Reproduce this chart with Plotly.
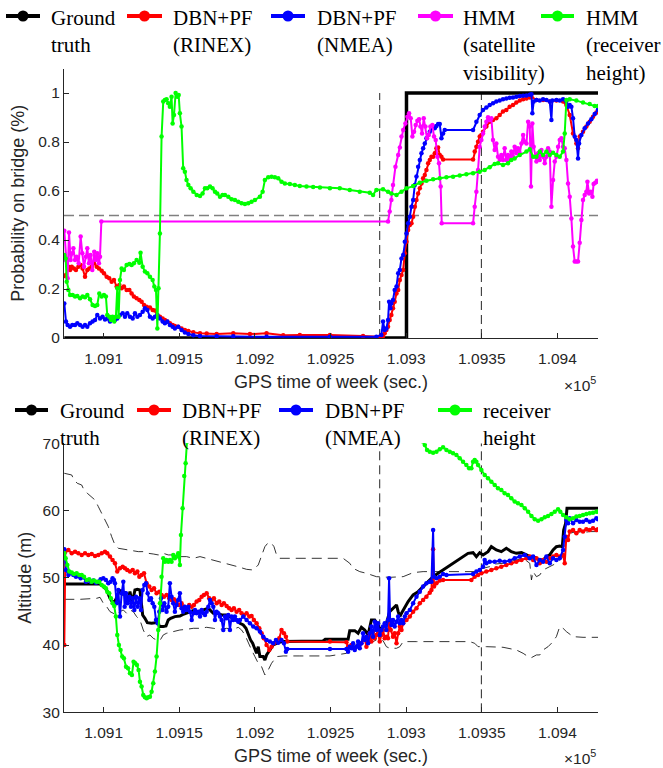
import plotly.graph_objects as go

# ---------------- data ----------------
tick_vals = [109100, 109150, 109200, 109250, 109300, 109350, 109400]
tick_text = ["1.091", "1.0915", "1.092", "1.0925", "1.093", "1.0935", "1.094"]
x_range = [109073.8, 109426.8]
event_times = [109282.5, 109349.7]

# ---- top: probability on bridge ----
gt_top_t = [109074.0, 109300.2, 109300.2, 109426.8]
gt_top_p = [0, 0, 1, 1]

rinex_top_t = [109074.0, 109075.1, 109076.7, 109077.8, 109078.9, 109080.4, 109081.7, 109083.3, 109084.8, 109086.1,
               109087.7, 109089.2, 109090.5, 109092.1, 109093.6, 109095.4, 109096.9, 109098.7, 109100.2, 109102.0,
               109103.7, 109105.3, 109106.8, 109108.6, 109110.4, 109111.9, 109113.4, 109115.2, 109117.0, 109118.5,
               109120.0, 109121.8, 109123.6, 109125.1, 109126.7, 109128.4, 109130.6, 109132.4, 109133.9, 109135.5,
               109137.2, 109139.0, 109140.5, 109142.1, 109143.8, 109145.6, 109147.1, 109149.3, 109151.5, 109153.7,
               109156.0, 109159.3, 109163.7, 109168.1, 109174.7, 109185.7, 109196.7, 109207.7, 109218.7, 109229.7,
               109249.6, 109271.5, 109282.5, 109284.7, 109285.8, 109286.9, 109288.0, 109289.1, 109290.2, 109291.3,
               109292.4, 109293.6, 109294.7, 109295.8, 109296.9, 109298.0, 109299.1, 109300.2, 109301.3, 109302.4,
               109303.5, 109304.6, 109305.7, 109306.8, 109307.9, 109309.0, 109310.1, 109311.2, 109312.3, 109313.4,
               109314.5, 109315.6, 109316.7, 109317.8, 109318.9, 109320.0, 109321.1, 109322.2, 109323.3, 109324.4,
               109344.2, 109345.3, 109346.4, 109347.5, 109348.6, 109349.7, 109350.8, 109353.0, 109355.2, 109357.4,
               109359.6, 109361.8, 109364.0, 109366.2, 109368.4, 109370.6, 109372.8, 109375.1, 109377.3, 109379.5,
               109381.7, 109382.8, 109386.1, 109390.5, 109394.9, 109399.3, 109403.7, 109405.9, 109408.1, 109410.3,
               109412.5, 109413.6, 109414.7, 109416.9, 109419.1, 109421.3, 109423.5, 109425.7, 109426.8]
rinex_top_p = [0.253, 0.257, 0.291, 0.278, 0.291, 0.284, 0.278, 0.291, 0.298, 0.284,
               0.250, 0.278, 0.284, 0.291, 0.305, 0.291, 0.284, 0.275, 0.264, 0.250,
               0.244, 0.230, 0.237, 0.210, 0.216, 0.203, 0.210, 0.196, 0.196, 0.182,
               0.169, 0.162, 0.155, 0.148, 0.135, 0.128, 0.125, 0.114, 0.112, 0.094,
               0.087, 0.080, 0.073, 0.067, 0.060, 0.053, 0.049, 0.046, 0.039, 0.033,
               0.029, 0.023, 0.019, 0.018, 0.016, 0.019, 0.016, 0.019, 0.011, 0.012,
               0.012, 0.008, 0.005, 0.008, 0.019, 0.033, 0.046, 0.073, 0.094, 0.121,
               0.148, 0.182, 0.196, 0.237, 0.257, 0.278, 0.346, 0.393, 0.441, 0.461,
               0.468, 0.495, 0.536, 0.563, 0.590, 0.611, 0.631, 0.652, 0.665, 0.686,
               0.713, 0.727, 0.740, 0.740, 0.754, 0.774, 0.778, 0.747, 0.740, 0.729,
               0.729, 0.761, 0.781, 0.801, 0.822, 0.829, 0.842, 0.863, 0.883, 0.890,
               0.897, 0.910, 0.924, 0.931, 0.944, 0.951, 0.961, 0.969, 0.974, 0.978,
               0.982, 0.985, 0.971, 0.971, 0.965, 0.969, 0.965, 0.951, 0.910, 0.835,
               0.794, 0.774, 0.822, 0.842, 0.863, 0.883, 0.903, 0.920, 0.928]

nmea_top_t = [109074.0, 109075.1, 109076.2, 109077.8, 109079.3, 109081.1, 109082.6, 109084.4, 109086.1, 109087.7,
              109089.2, 109091.0, 109092.7, 109094.3, 109095.8, 109097.6, 109099.3, 109100.9, 109102.4, 109104.2,
              109105.9, 109107.5, 109109.0, 109110.8, 109112.6, 109114.1, 109115.6, 109117.4, 109119.2, 109120.7,
              109122.3, 109124.0, 109125.8, 109127.3, 109128.9, 109130.6, 109132.4, 109133.9, 109135.5, 109137.2,
              109139.0, 109140.5, 109142.1, 109143.8, 109145.6, 109147.1, 109149.3, 109151.5, 109153.7, 109156.0,
              109159.3, 109163.7, 109174.7, 109185.7, 109207.7, 109249.6, 109280.3, 109283.6, 109284.7, 109285.8,
              109286.9, 109288.0, 109288.7, 109289.6, 109290.2, 109291.3, 109292.4, 109293.6, 109294.7, 109295.8,
              109296.9, 109298.0, 109299.1, 109300.2, 109301.3, 109302.4, 109303.5, 109304.6, 109305.7, 109306.8,
              109307.9, 109309.0, 109310.1, 109311.2, 109312.3, 109313.4, 109314.5, 109315.6, 109316.7, 109317.8,
              109318.9, 109320.0, 109321.1, 109322.2, 109323.3, 109324.4, 109325.5, 109344.2, 109346.4, 109348.6,
              109350.8, 109353.0, 109355.2, 109357.4, 109359.6, 109361.8, 109364.0, 109366.2, 109368.4, 109370.6,
              109372.8, 109375.1, 109377.3, 109379.5, 109381.7, 109382.8, 109383.4, 109384.3, 109386.1, 109388.3,
              109390.5, 109392.7, 109394.9, 109396.0, 109396.6, 109399.3, 109401.5, 109403.7, 109405.9, 109407.0,
              109408.1, 109409.2, 109410.3, 109411.4, 109412.5, 109413.6, 109414.3, 109415.8, 109418.0, 109420.2,
              109422.4, 109424.6, 109426.8]
nmea_top_p = [0.141, 0.067, 0.053, 0.046, 0.053, 0.053, 0.060, 0.053, 0.046, 0.053,
              0.046, 0.060, 0.067, 0.073, 0.094, 0.080, 0.087, 0.076, 0.080, 0.067,
              0.080, 0.073, 0.080, 0.094, 0.101, 0.087, 0.101, 0.087, 0.080, 0.101,
              0.087, 0.094, 0.107, 0.121, 0.114, 0.087, 0.080, 0.087, 0.094, 0.080,
              0.067, 0.060, 0.067, 0.053, 0.046, 0.039, 0.046, 0.033, 0.022, 0.016,
              0.011, 0.008, 0.007, 0.007, 0.005, 0.005, 0.005, 0.012, 0.067, 0.033,
              0.039, 0.073, 0.148, 0.121, 0.141, 0.155, 0.196, 0.210, 0.264, 0.278,
              0.325, 0.339, 0.393, 0.427, 0.468, 0.495, 0.536, 0.563, 0.624, 0.659,
              0.699, 0.727, 0.754, 0.774, 0.794, 0.815, 0.829, 0.842, 0.856, 0.863,
              0.856, 0.865, 0.873, 0.873, 0.815, 0.835, 0.849, 0.849, 0.883, 0.910,
              0.931, 0.941, 0.951, 0.958, 0.965, 0.969, 0.974, 0.978, 0.981, 0.982,
              0.985, 0.988, 0.989, 0.990, 0.993, 0.995, 0.917, 0.965, 0.971, 0.969,
              0.974, 0.971, 0.965, 0.890, 0.969, 0.971, 0.969, 0.974, 0.965, 0.944,
              0.951, 0.944, 0.897, 0.822, 0.808, 0.733, 0.794, 0.829, 0.856, 0.876,
              0.893, 0.914, 0.933]

vis_top_t = [109074.0, 109075.1, 109076.2, 109077.1, 109078.2, 109079.3, 109080.0, 109081.1, 109082.2, 109083.5,
             109084.8, 109085.9, 109087.0, 109088.3, 109089.2, 109090.3, 109091.4, 109092.5, 109093.8, 109094.9,
             109095.8, 109096.9, 109097.6, 109098.5, 109288.0, 109289.1, 109290.2, 109291.3, 109292.9, 109294.7,
             109295.8, 109296.9, 109298.0, 109299.5, 109300.8, 109301.9, 109303.0, 109304.1, 109305.2, 109306.3,
             109307.4, 109308.5, 109309.4, 109310.5, 109311.6, 109312.7, 109313.8, 109314.9, 109316.0, 109317.3,
             109318.4, 109319.5, 109320.6, 109321.7, 109322.8, 109323.5, 109344.2, 109345.3, 109346.4, 109347.5,
             109348.6, 109349.7, 109350.8, 109351.9, 109353.0, 109354.1, 109355.2, 109356.3, 109357.4, 109358.5,
             109359.6, 109360.7, 109361.8, 109362.9, 109364.0, 109365.1, 109366.2, 109367.3, 109368.4, 109369.5,
             109370.6, 109371.7, 109372.8, 109373.9, 109375.1, 109376.2, 109377.3, 109378.4, 109379.5, 109380.6,
             109381.7, 109382.5, 109383.4, 109384.3, 109385.2, 109386.1, 109387.2, 109388.3, 109389.4, 109390.5,
             109391.6, 109392.7, 109393.8, 109394.9, 109396.0, 109397.1, 109398.2, 109399.3, 109400.4, 109401.5,
             109402.6, 109403.7, 109404.8, 109405.9, 109407.0, 109408.1, 109409.2, 109410.3, 109411.4, 109412.5,
             109413.6, 109414.7, 109415.8, 109416.9, 109418.0, 109419.1, 109419.8, 109420.9, 109422.0, 109423.1,
             109423.9, 109425.0, 109426.1, 109426.8]
vis_top_p = [0.438, 0.318, 0.244, 0.431, 0.318, 0.346, 0.366, 0.318, 0.332, 0.305,
             0.414, 0.346, 0.291, 0.332, 0.366, 0.305, 0.339, 0.278, 0.352, 0.318,
             0.346, 0.305, 0.332, 0.476, 0.476, 0.516, 0.563, 0.624, 0.699, 0.747,
             0.778, 0.822, 0.849, 0.876, 0.903, 0.917, 0.897, 0.822, 0.842, 0.869,
             0.887, 0.893, 0.863, 0.835, 0.897, 0.863, 0.815, 0.829, 0.863, 0.869,
             0.822, 0.808, 0.740, 0.713, 0.618, 0.468, 0.468, 0.536, 0.597, 0.686,
             0.781, 0.808, 0.835, 0.863, 0.883, 0.901, 0.890, 0.897, 0.808, 0.767,
             0.794, 0.740, 0.727, 0.747, 0.727, 0.774, 0.727, 0.747, 0.727, 0.761,
             0.740, 0.781, 0.754, 0.774, 0.754, 0.794, 0.829, 0.801, 0.794, 0.883,
             0.863, 0.618, 0.876, 0.781, 0.740, 0.720, 0.754, 0.727, 0.767, 0.740,
             0.713, 0.740, 0.774, 0.761, 0.536, 0.645, 0.720, 0.740, 0.781, 0.808,
             0.815, 0.781, 0.774, 0.727, 0.631, 0.577, 0.488, 0.373, 0.312, 0.312,
             0.312, 0.389, 0.482, 0.563, 0.584, 0.597, 0.638, 0.590, 0.597, 0.577,
             0.629, 0.634, 0.642, 0.638]

height_top_t = [109074.0, 109074.9, 109075.6, 109076.7, 109077.8, 109079.5, 109081.1, 109082.6, 109084.4, 109086.1,
                109087.7, 109089.2, 109091.0, 109092.7, 109094.3, 109095.8, 109097.1, 109098.7, 109100.2, 109101.5,
                109102.4, 109103.7, 109104.8, 109105.9, 109107.0, 109108.1, 109109.0, 109109.9, 109110.8, 109111.9,
                109113.4, 109115.2, 109117.0, 109118.5, 109120.0, 109121.8, 109123.6, 109124.4, 109125.8, 109127.3,
                109128.9, 109130.6, 109132.4, 109133.5, 109134.6, 109135.5, 109136.3, 109137.2, 109138.3, 109139.4,
                109140.5, 109141.6, 109142.7, 109143.8, 109144.9, 109145.6, 109146.5, 109147.6, 109148.7, 109149.6,
                109150.4, 109151.5, 109152.6, 109153.7, 109154.8, 109156.0, 109157.5, 109159.3, 109161.5, 109163.7,
                109165.4, 109167.0, 109168.5, 109170.3, 109172.0, 109173.6, 109175.1, 109176.9, 109178.6, 109180.2,
                109182.4, 109184.6, 109186.8, 109189.0, 109191.2, 109193.4, 109195.6, 109197.8, 109200.0, 109203.3,
                109205.1, 109206.6, 109208.8, 109211.0, 109213.2, 109215.4, 109217.6, 109219.8, 109223.1, 109226.4,
                109229.7, 109234.1, 109238.5, 109243.0, 109249.6, 109256.1, 109262.7, 109269.3, 109275.9, 109278.1,
                109280.3, 109284.7, 109288.0, 109290.2, 109293.6, 109296.9, 109300.2, 109304.6, 109309.0, 109313.4,
                109317.8, 109322.2, 109326.6, 109331.0, 109335.4, 109339.8, 109344.2, 109348.6, 109351.9, 109355.2,
                109358.5, 109360.7, 109364.0, 109367.3, 109369.5, 109371.7, 109375.1, 109379.5, 109381.7, 109383.9,
                109386.1, 109388.3, 109390.5, 109392.7, 109394.9, 109397.1, 109399.3, 109401.5, 109403.7, 109404.8,
                109405.9, 109408.1, 109412.5, 109416.9, 109421.3, 109424.6, 109426.8]
height_top_p = [0.339, 0.325, 0.230, 0.196, 0.176, 0.176, 0.169, 0.171, 0.162, 0.169,
                0.166, 0.176, 0.158, 0.135, 0.131, 0.135, 0.182, 0.169, 0.176, 0.169,
                0.094, 0.087, 0.073, 0.087, 0.067, 0.087, 0.203, 0.087, 0.237, 0.284,
                0.278, 0.298, 0.302, 0.298, 0.305, 0.318, 0.307, 0.348, 0.291, 0.271,
                0.264, 0.250, 0.237, 0.210, 0.196, 0.039, 0.203, 0.427, 0.822, 0.965,
                0.971, 0.974, 0.958, 0.944, 0.985, 0.876, 0.910, 1.000, 0.985, 0.992,
                0.917, 0.863, 0.693, 0.679, 0.645, 0.624, 0.611, 0.597, 0.584, 0.580,
                0.590, 0.611, 0.611, 0.618, 0.611, 0.597, 0.590, 0.577, 0.584, 0.584,
                0.577, 0.566, 0.563, 0.556, 0.550, 0.547, 0.550, 0.556, 0.563, 0.577,
                0.597, 0.645, 0.656, 0.658, 0.656, 0.652, 0.638, 0.631, 0.629, 0.624,
                0.620, 0.618, 0.616, 0.614, 0.611, 0.611, 0.604, 0.597, 0.593, 0.584,
                0.604, 0.607, 0.597, 0.590, 0.584, 0.597, 0.611, 0.620, 0.634, 0.642,
                0.648, 0.652, 0.656, 0.658, 0.663, 0.668, 0.672, 0.679, 0.686, 0.697,
                0.710, 0.713, 0.706, 0.713, 0.727, 0.733, 0.747, 0.761, 0.770, 0.740,
                0.740, 0.761, 0.747, 0.761, 0.747, 0.756, 0.747, 0.740, 0.761, 0.835,
                0.971, 0.974, 0.969, 0.961, 0.955, 0.947, 0.947]

# ---- bottom: altitude ----
gt_alt_t = [109074.0, 109097.6, 109099.8, 109102.0, 109104.2, 109106.4, 109108.1, 109109.7, 109111.2, 109112.6,
            109114.1, 109115.6, 109117.4, 109118.9, 109120.7, 109122.3, 109124.0, 109125.8, 109127.3, 109128.9,
            109131.7, 109134.6, 109135.5, 109136.8, 109139.4, 109141.2, 109142.7, 109144.3, 109147.1, 109150.4,
            109153.1, 109156.0, 109159.3, 109162.6, 109165.9, 109169.2, 109172.5, 109175.1, 109178.0, 109180.8,
            109183.5, 109185.7, 109187.9, 109190.1, 109192.3, 109194.1, 109195.6, 109197.1, 109198.5, 109200.0,
            109201.1, 109202.2, 109203.3, 109205.5, 109206.6, 109207.7, 109209.9, 109212.1, 109214.3, 109217.6,
            109245.0, 109246.5, 109261.6, 109262.7, 109266.0, 109268.2, 109270.4, 109272.6, 109274.8, 109277.0,
            109279.2, 109281.4, 109282.5, 109284.7, 109286.9, 109289.1, 109291.3, 109293.6, 109294.7, 109295.8,
            109296.9, 109299.1, 109301.3, 109304.6, 109307.9, 109311.2, 109314.5, 109317.8, 109321.1, 109324.4,
            109327.7, 109331.0, 109334.3, 109337.6, 109340.9, 109344.2, 109346.4, 109348.6, 109350.8, 109354.1,
            109356.3, 109359.6, 109362.9, 109366.2, 109369.5, 109372.8, 109376.2, 109379.5, 109381.7, 109383.9,
            109386.1, 109388.3, 109390.5, 109392.7, 109394.9, 109397.1, 109399.3, 109401.5, 109403.2, 109404.1,
            109405.4, 109406.3, 109426.8]
gt_alt_m = [49.08, 49.08, 48.69, 48.19, 46.95, 46.21, 46.80, 47.70, 48.19, 47.45,
            47.94, 46.21, 47.94, 46.21, 48.19, 48.29, 48.19, 44.47, 43.98, 43.33,
            43.23, 43.33, 43.98, 42.74, 42.74, 42.84, 43.73, 43.98, 44.23, 44.32,
            44.62, 44.82, 45.12, 44.97, 45.22, 45.46, 44.72, 44.72, 44.47, 44.47,
            44.23, 43.98, 43.73, 43.23, 42.99, 42.49, 41.50, 40.76, 40.26, 39.52,
            38.77, 39.76, 38.28, 38.28, 37.78, 38.53, 39.27, 40.01, 40.26, 40.51,
            40.60, 40.86, 40.86, 42.14, 42.14, 41.75, 42.64, 42.24, 41.50, 43.73,
            43.73, 42.99, 42.24, 42.74, 43.23, 44.97, 45.46, 45.96, 44.97, 44.23,
            44.72, 45.71, 46.46, 47.45, 47.94, 48.69, 49.43, 50.17, 50.67, 51.16,
            51.66, 52.16, 52.65, 53.15, 53.64, 53.74, 53.15, 53.74, 53.40, 53.89,
            54.63, 54.14, 53.89, 54.39, 53.89, 53.64, 53.74, 53.40, 53.15, 53.15,
            52.90, 52.65, 52.65, 53.15, 53.40, 54.14, 54.63, 54.73, 54.63, 57.11,
            58.10, 60.33, 60.33]

rinex_alt_t = [109074.0, 109074.7, 109076.7, 109078.9, 109081.1, 109083.3, 109085.5, 109087.7, 109089.9, 109092.1,
               109094.3, 109096.5, 109098.7, 109100.9, 109102.4, 109104.2, 109105.9, 109107.5, 109109.0, 109110.8,
               109112.6, 109114.1, 109115.6, 109117.4, 109119.2, 109120.7, 109122.3, 109123.6, 109125.1, 109126.7,
               109128.4, 109130.2, 109131.7, 109133.3, 109135.0, 109136.8, 109138.3, 109139.9, 109141.6, 109143.4,
               109144.9, 109146.5, 109148.2, 109150.0, 109151.5, 109153.1, 109154.8, 109156.6, 109158.2, 109159.7,
               109161.5, 109163.2, 109164.8, 109166.3, 109168.1, 109169.8, 109171.4, 109172.9, 109174.7, 109176.4,
               109178.0, 109179.5, 109181.3, 109183.0, 109184.6, 109186.1, 109187.9, 109189.6, 109191.2, 109192.7,
               109194.5, 109196.3, 109197.8, 109199.3, 109201.1, 109202.9, 109204.4, 109205.9, 109207.7, 109209.5,
               109211.0, 109212.6, 109214.3, 109216.1, 109217.6, 109219.2, 109220.5, 109221.4, 109249.6, 109260.5,
               109261.6, 109263.8, 109266.0, 109268.2, 109270.4, 109272.6, 109273.7, 109274.8, 109275.9, 109277.0,
               109278.1, 109279.2, 109280.3, 109281.4, 109282.5, 109283.6, 109284.7, 109285.8, 109286.9, 109288.0,
               109288.7, 109289.8, 109291.3, 109292.4, 109293.6, 109294.7, 109295.8, 109296.9, 109298.0, 109300.2,
               109302.4, 109304.6, 109306.8, 109309.0, 109311.2, 109313.4, 109315.6, 109316.7, 109317.8, 109318.4,
               109320.0, 109322.2, 109324.4, 109343.1, 109345.3, 109347.5, 109349.7, 109353.0, 109356.3, 109359.6,
               109362.9, 109366.2, 109369.5, 109372.8, 109376.2, 109379.5, 109381.7, 109383.9, 109386.1, 109388.3,
               109390.5, 109392.7, 109394.9, 109397.1, 109399.3, 109401.5, 109403.7, 109404.8, 109405.9, 109407.0,
               109408.1, 109410.3, 109412.5, 109414.7, 109416.9, 109419.1, 109421.3, 109423.5, 109425.7, 109426.8]
rinex_alt_m = [40.01, 53.89, 54.14, 53.64, 53.89, 53.64, 53.40, 53.64, 53.40, 53.54,
               53.25, 53.40, 53.64, 53.89, 53.64, 53.15, 52.65, 52.16, 50.92, 51.41,
               51.66, 51.41, 51.16, 50.92, 51.16, 50.67, 50.92, 50.17, 50.42, 50.67,
               49.18, 48.69, 48.19, 48.44, 47.70, 47.94, 47.45, 47.20, 47.45, 46.95,
               46.70, 46.80, 46.46, 45.96, 46.21, 45.71, 45.46, 45.96, 45.71, 45.96,
               46.46, 46.70, 47.20, 47.45, 47.70, 46.95, 46.70, 46.95, 46.21, 46.46,
               45.96, 46.21, 45.81, 45.46, 45.22, 45.46, 44.97, 45.22, 44.72, 44.47,
               44.72, 44.23, 44.32, 43.73, 43.23, 42.49, 41.75, 41.00, 40.01, 39.27,
               39.76, 40.26, 40.51, 41.00, 42.24, 41.75, 41.25, 40.51, 40.51, 40.41,
               39.76, 40.01, 39.52, 39.86, 40.26, 41.00, 39.76, 40.76, 41.75, 40.51,
               42.00, 41.00, 41.50, 41.75, 40.51, 41.50, 42.24, 41.00, 41.25, 41.00,
               43.73, 42.24, 41.25, 41.75, 40.26, 41.75, 42.74, 42.24, 43.23, 43.73,
               44.23, 44.97, 45.46, 46.21, 46.70, 47.20, 47.79, 48.19, 54.24, 48.69,
               49.18, 49.58, 49.68, 49.68, 50.17, 50.42, 50.67, 50.92, 51.16, 51.41,
               51.66, 51.91, 52.16, 52.40, 52.65, 52.90, 53.15, 52.65, 52.90, 52.16,
               52.65, 52.40, 52.90, 53.15, 53.40, 53.15, 53.40, 52.16, 56.12, 55.63,
               56.87, 57.11, 56.62, 57.11, 56.87, 57.21, 57.11, 57.36, 57.11, 57.21]

nmea_alt_t = [109074.0, 109075.1, 109076.7, 109078.2, 109080.0, 109081.7, 109083.3, 109084.8, 109086.6, 109088.3,
              109089.9, 109091.4, 109093.2, 109094.9, 109096.5, 109098.0, 109099.8, 109101.5, 109103.1, 109104.6,
              109105.9, 109106.8, 109107.5, 109108.6, 109109.7, 109110.8, 109111.9, 109113.0, 109113.9, 109114.8,
              109115.9, 109117.0, 109118.1, 109119.2, 109120.3, 109121.4, 109122.5, 109123.6, 109124.7, 109125.8,
              109126.9, 109128.0, 109129.1, 109130.2, 109131.3, 109132.4, 109133.5, 109134.6, 109135.7, 109136.8,
              109137.9, 109139.0, 109140.1, 109141.6, 109142.7, 109143.8, 109144.9, 109146.0, 109147.1, 109148.2,
              109149.3, 109150.4, 109151.5, 109152.6, 109153.7, 109154.8, 109156.0, 109157.1, 109158.2, 109159.3,
              109160.4, 109161.5, 109162.6, 109163.7, 109164.8, 109165.9, 109167.0, 109168.1, 109169.2, 109170.3,
              109171.4, 109172.5, 109173.6, 109174.7, 109175.8, 109176.9, 109178.0, 109179.1, 109180.2, 109181.3,
              109182.4, 109183.5, 109184.6, 109185.7, 109186.8, 109187.9, 109189.0, 109190.1, 109192.3, 109194.5,
              109196.7, 109198.9, 109201.1, 109203.3, 109205.5, 109207.7, 109209.9, 109212.1, 109213.9, 109215.4,
              109217.6, 109219.2, 109220.5, 109221.4, 109249.6, 109260.5, 109261.6, 109262.7, 109263.8, 109264.9,
              109266.0, 109267.1, 109268.2, 109269.3, 109270.4, 109271.5, 109272.6, 109273.7, 109274.8, 109275.9,
              109277.0, 109278.1, 109279.2, 109280.3, 109281.4, 109282.5, 109283.6, 109284.7, 109285.8, 109286.9,
              109288.0, 109288.7, 109289.4, 109290.2, 109291.3, 109292.4, 109293.6, 109294.7, 109295.8, 109296.9,
              109298.0, 109299.1, 109300.2, 109302.4, 109304.6, 109306.8, 109309.0, 109311.2, 109313.4, 109315.6,
              109316.7, 109317.8, 109318.4, 109320.0, 109322.2, 109324.4, 109326.6, 109344.2, 109346.4, 109348.6,
              109350.8, 109351.9, 109353.0, 109355.2, 109358.5, 109361.8, 109365.1, 109368.4, 109371.7, 109375.1,
              109378.4, 109381.7, 109383.9, 109386.1, 109388.3, 109390.5, 109392.7, 109394.9, 109397.1, 109399.3,
              109401.5, 109403.7, 109404.8, 109405.9, 109407.0, 109408.1, 109410.3, 109412.5, 109414.7, 109416.9,
              109419.1, 109421.3, 109423.5, 109425.7, 109426.8]
nmea_alt_m = [54.24, 51.16, 50.42, 50.67, 50.42, 50.17, 50.27, 49.93, 50.07, 49.43,
              49.68, 49.43, 49.58, 49.28, 49.43, 49.78, 49.93, 49.68, 49.18, 49.43,
              49.93, 49.68, 49.18, 46.21, 48.19, 44.23, 47.70, 49.43, 45.71, 47.70,
              46.21, 47.20, 45.71, 46.95, 45.22, 47.20, 45.71, 46.95, 45.22, 48.19,
              48.93, 49.18, 47.70, 46.70, 46.95, 46.21, 45.71, 43.73, 43.23, 44.97,
              46.95, 45.22, 46.21, 44.97, 45.71, 49.18, 47.20, 46.21, 44.97, 45.96,
              46.70, 47.70, 45.46, 44.97, 45.71, 45.22, 45.71, 44.97, 43.73, 44.72,
              45.22, 44.72, 44.97, 44.23, 45.22, 44.72, 44.47, 44.97, 45.71, 46.70,
              46.21, 45.71, 43.73, 44.97, 44.72, 44.23, 43.73, 42.24, 44.23, 43.98,
              44.47, 42.24, 44.23, 43.73, 44.23, 43.73, 43.48, 43.73, 44.23, 43.73,
              43.23, 42.74, 42.49, 42.00, 41.25, 40.76, 40.51, 40.26, 40.76, 40.36,
              40.76, 40.26, 39.02, 39.42, 39.42, 39.42, 39.02, 39.76, 39.52, 40.26,
              39.27, 39.76, 40.51, 39.52, 40.26, 41.75, 40.76, 41.25, 40.26, 41.75,
              42.74, 41.25, 43.48, 42.24, 43.23, 41.50, 42.24, 42.74, 43.23, 42.24,
              43.73, 49.93, 43.73, 42.99, 43.73, 42.74, 43.48, 44.23, 43.23, 43.73,
              43.23, 44.23, 44.72, 45.22, 46.21, 47.20, 47.94, 48.69, 49.18, 49.43,
              49.43, 57.11, 50.17, 49.93, 50.17, 50.57, 50.42, 50.57, 50.92, 51.16,
              51.66, 52.65, 52.16, 52.40, 52.40, 52.55, 52.40, 52.55, 52.90, 53.15,
              53.40, 52.90, 53.15, 51.91, 52.65, 52.40, 53.15, 52.16, 52.90, 52.65,
              52.90, 54.14, 56.12, 58.60, 58.10, 58.85, 58.10, 58.60, 58.35, 58.35,
              58.60, 58.35, 58.50, 58.85, 58.70]

height_alt_t = [109074.0, 109074.9, 109076.0, 109077.3, 109078.9, 109080.4, 109082.2, 109083.9, 109085.5, 109087.0,
                109088.8, 109090.5, 109092.1, 109093.6, 109095.4, 109097.1, 109098.7, 109100.2, 109101.5, 109102.4,
                109103.7, 109104.8, 109105.9, 109107.0, 109108.1, 109109.0, 109110.1, 109111.2, 109112.3, 109113.4,
                109114.8, 109116.1, 109117.4, 109118.7, 109119.8, 109120.9, 109122.0, 109123.1, 109124.0, 109125.1,
                109126.2, 109127.3, 109128.4, 109129.5, 109130.6, 109131.7, 109132.8, 109133.9, 109135.0, 109136.1,
                109137.2, 109138.3, 109139.4, 109140.5, 109141.6, 109142.7, 109143.8, 109144.9, 109146.0, 109147.1,
                109148.2, 109149.3, 109150.4, 109151.1, 109152.2, 109153.3, 109154.2, 109155.1, None,
                109311.2, 109312.3, 109313.8, 109315.6, 109317.8, 109320.0, 109322.2, 109324.4, 109326.6, 109328.8,
                109331.0, 109333.2, 109335.4, 109337.6, 109339.8, 109341.6, 109343.1, 109344.2, 109345.3, 109346.4,
                109347.5, 109349.7, 109351.9, 109354.1, 109356.3, 109358.5, 109360.7, 109362.9, 109365.1, 109367.3,
                109369.5, 109371.7, 109373.9, 109376.2, 109378.4, 109380.6, 109382.8, 109385.0, 109387.2, 109389.4,
                109391.6, 109393.8, 109396.0, 109398.2, 109400.4, 109401.9, 109403.7, 109405.9, 109408.1, 109410.3,
                109412.5, 109414.7, 109416.9, 109419.1, 109421.3, 109423.5, 109425.7, 109426.8]
height_alt_m = [53.64, 52.90, 51.91, 50.92, 50.77, 50.57, 50.67, 50.42, 50.42, 50.17,
                49.68, 49.78, 49.43, 49.58, 49.43, 49.43, 48.93, 48.69, 48.44, 47.94,
                47.70, 46.95, 46.21, 45.81, 44.23, 41.50, 40.01, 39.27, 38.28, 38.03,
                36.79, 36.54, 35.80, 35.55, 37.53, 37.29, 37.04, 36.29, 34.56, 33.82,
                32.58, 32.23, 32.08, 32.23, 32.33, 33.07, 34.31, 36.05, 38.28, 42.24,
                46.21, 50.17, 52.90, 52.40, 52.65, 52.40, 52.65, 52.40, 53.40, 52.90,
                53.15, 53.64, 51.91, 56.37, 60.33, 65.14, 67.03, 70.25, None,
                70.25, 69.75, 69.01, 68.76, 68.61, 68.76, 69.11, 69.41, 69.01, 68.76,
                68.51, 68.27, 67.77, 67.27, 66.78, 66.28, 66.28, 67.27, 67.52, 67.27,
                66.78, 66.03, 65.29, 64.80, 64.30, 63.80, 63.31, 63.06, 62.57, 62.32,
                61.82, 61.33, 61.08, 60.83, 60.33, 59.84, 59.19, 58.70, 58.50, 58.70,
                59.00, 59.19, 59.49, 59.84, 60.19, 59.84, 59.34, 59.00, 58.70, 58.85,
                59.10, 59.19, 59.34, 59.49, 59.59, 59.69, 59.84, 59.84]

upper_t = [109074.0, 109076.7, 109078.9, 109080.4, 109082.6, 109085.5, 109087.0, 109089.2, 109091.4, 109094.3,
           109096.5, 109098.7, 109100.9, 109103.1, 109105.3, 109107.5, 109109.7, 109113.0, 109116.3, 109119.6,
           109122.9, 109126.2, 109129.5, 109132.8, 109136.1, 109139.4, 109142.7, 109146.0, 109150.4, 109154.8,
           109159.3, 109163.7, 109168.1, 109172.5, 109176.9, 109181.3, 109185.7, 109190.1, 109194.5, 109198.9,
           109202.2, 109204.4, 109206.6, 109208.8, 109211.0, 109212.6, 109214.3, 109216.5, 109220.9, 109229.7,
           109249.6, 109258.3, 109262.7, 109264.9, 109269.3, 109273.7, 109280.3, 109289.1, 109298.0, 109304.6,
           109311.2, 109324.4, 109337.6, 109346.4, 109350.8, 109355.2, 109359.6, 109364.0, 109368.4, 109372.8,
           109377.3, 109381.7, 109382.8, 109383.9, 109386.1, 109388.3, 109390.5, 109394.9, 109399.3, 109403.7,
           109405.9, 109408.1, 109412.5, 109416.9, 109421.3, 109426.8]
upper_m = [65.54, 65.44, 65.29, 64.55, 64.05, 63.80, 63.06, 62.57, 62.17, 61.57,
           60.58, 59.59, 58.60, 57.61, 56.12, 54.88, 54.39, 54.24, 54.14, 54.04,
           53.89, 53.89, 53.64, 53.54, 53.40, 53.64, 53.40, 53.40, 53.15, 53.15,
           52.90, 53.15, 52.90, 52.65, 52.40, 52.16, 51.91, 51.56, 51.26, 51.16,
           51.91, 53.15, 54.63, 55.23, 55.13, 54.63, 53.40, 52.90, 52.90, 52.80,
           52.90, 52.90, 52.16, 51.41, 50.92, 50.67, 50.17, 50.07, 50.17, 50.77,
           50.92, 50.92, 50.92, 50.92, 51.41, 51.66, 52.06, 52.16, 52.40, 52.65,
           52.90, 52.16, 49.68, 50.92, 50.17, 50.42, 51.16, 51.66, 52.16, 53.15,
           56.12, 56.62, 56.87, 56.72, 56.87, 56.87]

lower_t = [109074.0, 109084.4, 109095.4, 109097.6, 109099.8, 109102.0, 109104.2, 109106.4, 109108.6, 109110.8,
           109113.0, 109115.2, 109117.4, 109119.6, 109121.8, 109124.0, 109126.2, 109128.4, 109130.6, 109132.8,
           109135.0, 109137.2, 109139.4, 109141.6, 109146.0, 109150.4, 109154.8, 109159.3, 109163.7, 109168.1,
           109172.5, 109176.9, 109181.3, 109185.7, 109189.0, 109191.2, 109193.4, 109195.6, 109197.8, 109200.0,
           109202.2, 109204.4, 109206.6, 109208.8, 109211.0, 109214.3, 109218.7, 109229.7, 109249.6, 109260.5,
           109262.7, 109267.1, 109271.5, 109275.9, 109280.3, 109284.7, 109286.9, 109289.1, 109293.6, 109295.8,
           109298.0, 109306.8, 109315.6, 109328.8, 109342.0, 109345.3, 109347.5, 109353.0, 109364.0, 109372.8,
           109377.3, 109380.6, 109382.8, 109386.1, 109388.3, 109390.5, 109393.8, 109396.0, 109399.3, 109401.5,
           109403.7, 109405.9, 109410.3, 109416.9, 109426.8]
lower_m = [46.80, 46.80, 46.95, 47.10, 46.21, 45.71, 44.97, 44.72, 44.47, 44.97,
           45.22, 44.72, 45.22, 44.97, 44.23, 43.73, 42.24, 41.25, 41.50, 41.00,
           40.76, 40.66, 41.50, 41.75, 42.00, 42.24, 42.34, 42.49, 42.49, 42.64,
           42.49, 42.34, 42.49, 42.34, 42.64, 42.24, 41.50, 40.26, 39.27, 38.28,
           37.29, 36.79, 35.55, 36.29, 37.29, 38.28, 38.38, 38.38, 38.38, 38.77,
           40.01, 40.01, 40.26, 40.26, 40.76, 40.66, 39.76, 39.52, 39.52, 39.76,
           40.51, 40.51, 40.51, 40.51, 40.51, 40.26, 39.76, 39.76, 39.67, 39.27,
           38.77, 38.28, 38.13, 38.53, 38.53, 39.27, 39.76, 40.26, 41.25, 42.74,
           42.49, 42.00, 41.25, 41.15, 41.15]

# legend entries (text)
top_names = ["Ground<br>truth", "DBN+PF<br>(RINEX)", "DBN+PF<br>(NMEA)",
             "HMM<br>(satellite<br>visibility)", "HMM<br>(receiver<br>height)"]
bot_names = ["Ground<br>truth", "DBN+PF<br>(RINEX)", "DBN+PF<br>(NMEA)", "receiver<br>height"]

# ---------------- style ----------------
C_GT, C_RINEX, C_NMEA, C_VIS, C_HGT = "#000000", "#ff0000", "#0000ff", "#ff00ff", "#00ff00"
top_colors = [C_GT, C_RINEX, C_NMEA, C_VIS, C_HGT]
bot_colors = [C_GT, C_RINEX, C_NMEA, C_HGT]
AX = "#262626"
SANS = "Liberation Sans, Arial, sans-serif"
SERIF = "Liberation Serif, Times New Roman, serif"
W, H, ML, MR = 663, 768, 64, 65
PW = W - ML - MR

# legend layout (pixel positions of the legend boxes, styling only)
top_leg_sym = [(6, 40), (127, 162), (271, 305), (418, 453), (541, 574)]
top_leg_text_x = [49, 171, 315, 461, 584]
top_leg_y = 16
top_leg_text_top = 4
bot_leg_sym = [(15, 48), (137, 171), (279, 313), (438, 472)]
bot_leg_text_x = [58, 180, 323, 481]
bot_leg_y = 410
bot_leg_text_top = 397


def px_x(px):
    return (px - ML) / PW


def px_y(py):
    return 1 - py / H


fig = go.Figure()


def data_trace(x, y, color, xa, ya, width=2, size=4.5, markers=True):
    return go.Scatter(x=x, y=y, mode="lines+markers" if markers else "lines",
                      line=dict(color=color, width=width),
                      marker=dict(color=color, size=size),
                      xaxis=xa, yaxis=ya, showlegend=False, hoverinfo="skip",
                      connectgaps=False)


# top subplot
fig.add_trace(data_trace(gt_top_t, gt_top_p, C_GT, "x", "y", width=3.5, markers=False))
fig.add_trace(data_trace(rinex_top_t, rinex_top_p, C_RINEX, "x", "y"))
fig.add_trace(data_trace(nmea_top_t, nmea_top_p, C_NMEA, "x", "y"))
fig.add_trace(data_trace(vis_top_t, vis_top_p, C_VIS, "x", "y"))
fig.add_trace(data_trace(height_top_t, height_top_p, C_HGT, "x", "y"))

# bottom subplot
for xs, ys in [(upper_t, upper_m), (lower_t, lower_m)]:
    fig.add_trace(go.Scatter(x=xs, y=ys, mode="lines", line=dict(color="#000000", width=0.8, dash="10px,6px"),
                             xaxis="x2", yaxis="y2", showlegend=False, hoverinfo="skip"))
fig.add_trace(data_trace(gt_alt_t, gt_alt_m, C_GT, "x2", "y2", width=3, markers=False))
fig.add_trace(data_trace(rinex_alt_t, rinex_alt_m, C_RINEX, "x2", "y2"))
fig.add_trace(data_trace(nmea_alt_t, nmea_alt_m, C_NMEA, "x2", "y2"))
fig.add_trace(data_trace(height_alt_t, height_alt_m, C_HGT, "x2", "y2"))

axis_common = dict(showline=True, linecolor=AX, linewidth=1.2, ticks="inside", ticklen=5,
                   tickwidth=1, tickcolor=AX, showgrid=False, zeroline=False,
                   tickfont=dict(family=SANS, size=15.5, color=AX))
xcommon = dict(axis_common, range=x_range, tickvals=tick_vals, ticktext=tick_text, ticklabelstandoff=6,
               automargin=True,
               title=dict(text="GPS time of week (sec.)", standoff=9,
                          font=dict(family=SANS, size=18, color=AX)))

shapes = []
for et in event_times:
    shapes.append(dict(type="line", xref="x", yref="y", x0=et, x1=et, y0=0, y1=1,
                       line=dict(color=AX, width=1, dash="9px,5px"), layer="below"))
    shapes.append(dict(type="line", xref="x2", yref="y2", x0=et, x1=et, y0=30, y1=70,
                       line=dict(color=AX, width=1, dash="9px,5px"), layer="below"))
shapes.append(dict(type="line", xref="x domain", yref="y", x0=0, x1=1, y0=0.5, y1=0.5,
                   line=dict(color="#808080", width=1.3, dash="10px,5px"), layer="below"))

annotations = []


def add_legend(names, colors, syms, text_xs, ly, text_top):
    for name, col, (s0, s1), tx in zip(names, colors, syms, text_xs):
        shapes.append(dict(type="line", xref="paper", yref="paper", x0=px_x(s0), x1=px_x(s1),
                           y0=px_y(ly), y1=px_y(ly), line=dict(color=col, width=4), layer="above"))
        shapes.append(dict(type="circle", xref="paper", yref="paper", xsizemode="pixel", ysizemode="pixel",
                           xanchor=px_x((s0 + s1) / 2), yanchor=px_y(ly), x0=-5.5, x1=5.5, y0=-5.5, y1=5.5,
                           fillcolor=col, line=dict(color=col, width=0), layer="above"))
        annotations.append(dict(text=name, xref="paper", yref="paper", x=px_x(tx), y=px_y(text_top),
                                xanchor="left", yanchor="top", align="left", showarrow=False,
                                font=dict(family=SERIF, size=21, color="#000000")))


add_legend(top_names, top_colors, top_leg_sym, top_leg_text_x, top_leg_y, top_leg_text_top)
add_legend(bot_names, bot_colors, bot_leg_sym, bot_leg_text_x, bot_leg_y, bot_leg_text_top)

annotations += [
    dict(text="×10<sup>5</sup>", xref="paper", yref="paper", x=1.0, y=px_y(384), xanchor="right",
         yanchor="middle", showarrow=False, font=dict(family=SANS, size=15.5, color=AX)),
    dict(text="×10<sup>5</sup>", xref="paper", yref="paper", x=1.0, y=px_y(757), xanchor="right",
         yanchor="middle", showarrow=False, font=dict(family=SANS, size=15.5, color=AX)),
]

fig.update_layout(
    width=W, height=H,
    margin=dict(l=ML, r=MR, t=0, b=0, autoexpand=False),
    paper_bgcolor="white", plot_bgcolor="white",
    showlegend=False,
    xaxis=dict(xcommon, domain=[0, 1], anchor="y"),
    yaxis=dict(axis_common, domain=[px_y(338), px_y(68.5)], range=[0, 1.1], anchor="x", automargin=True,
               tickvals=[0, 0.2, 0.4, 0.6, 0.8, 1], ticktext=["0", "0.2", "0.4", "0.6", "0.8", "1"],
               title=dict(text="Probability on bridge (%)", standoff=8,
                          font=dict(family=SANS, size=18, color=AX))),
    xaxis2=dict(xcommon, domain=[0, 1], anchor="y2"),
    yaxis2=dict(axis_common, domain=[px_y(712.3), px_y(443.3)], range=[30, 70], anchor="x2", automargin=True,
                tickvals=[30, 40, 50, 60, 70],
                title=dict(text="Altitude (m)", standoff=6, font=dict(family=SANS, size=18, color=AX))),
    shapes=shapes,
    annotations=annotations,
)

# the page's default 8px body margin would shift the whole figure; remove it
fig.write_html("out.html", config={"displayModeBar": False},
               post_script="document.body.style.margin = '0px';")
